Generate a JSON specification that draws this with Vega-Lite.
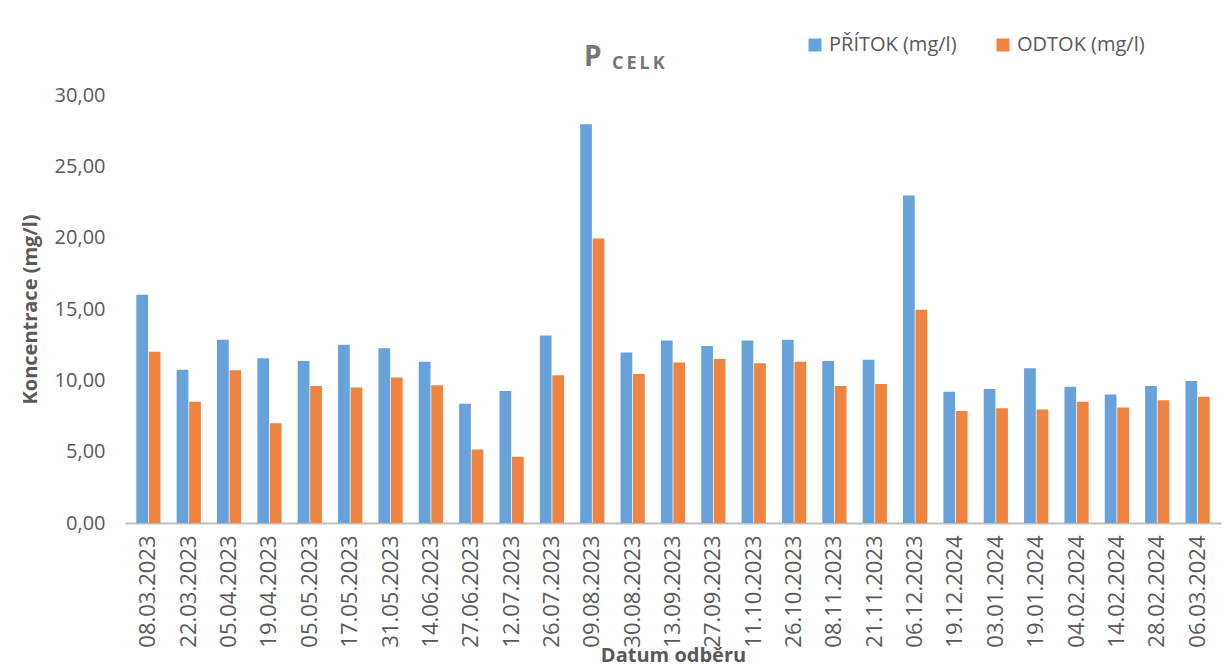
{
  "$schema": "https://vega.github.io/schema/vega-lite/v6.json",
  "width": 1096,
  "height": 428,
  "autosize": {"type": "none"},
  "padding": {"left": 125, "top": 95, "right": 8, "bottom": 145},
  "background": "white",
  "config": {"font": "Open Sans", "view": {"stroke": null}},
  "title": {
    "text": "P",
    "subtitle": "\u200b\u00a0\u00a0\u00a0\u00a0\u00a0\u00a0C\u2009E\u2009L\u2009K",
    "anchor": "middle",
    "align": "left",
    "dx": -89,
    "fontSize": 28,
    "fontWeight": "bold",
    "color": "#767676",
    "subtitleFontSize": 18,
    "subtitleFontWeight": "bold",
    "subtitleColor": "#767676",
    "subtitlePadding": -17,
    "offset": -38
  },
  "data": {
    "values": [
      {"datum": "08.03.2023", "serie": "PŘÍTOK (mg/l)", "hodnota": 16.0},
      {"datum": "08.03.2023", "serie": "ODTOK (mg/l)", "hodnota": 12.0},
      {"datum": "22.03.2023", "serie": "PŘÍTOK (mg/l)", "hodnota": 10.75},
      {"datum": "22.03.2023", "serie": "ODTOK (mg/l)", "hodnota": 8.5},
      {"datum": "05.04.2023", "serie": "PŘÍTOK (mg/l)", "hodnota": 12.85},
      {"datum": "05.04.2023", "serie": "ODTOK (mg/l)", "hodnota": 10.7},
      {"datum": "19.04.2023", "serie": "PŘÍTOK (mg/l)", "hodnota": 11.55},
      {"datum": "19.04.2023", "serie": "ODTOK (mg/l)", "hodnota": 7.0},
      {"datum": "05.05.2023", "serie": "PŘÍTOK (mg/l)", "hodnota": 11.35},
      {"datum": "05.05.2023", "serie": "ODTOK (mg/l)", "hodnota": 9.6},
      {"datum": "17.05.2023", "serie": "PŘÍTOK (mg/l)", "hodnota": 12.5},
      {"datum": "17.05.2023", "serie": "ODTOK (mg/l)", "hodnota": 9.5},
      {"datum": "31.05.2023", "serie": "PŘÍTOK (mg/l)", "hodnota": 12.25},
      {"datum": "31.05.2023", "serie": "ODTOK (mg/l)", "hodnota": 10.2},
      {"datum": "14.06.2023", "serie": "PŘÍTOK (mg/l)", "hodnota": 11.3},
      {"datum": "14.06.2023", "serie": "ODTOK (mg/l)", "hodnota": 9.65},
      {"datum": "27.06.2023", "serie": "PŘÍTOK (mg/l)", "hodnota": 8.35},
      {"datum": "27.06.2023", "serie": "ODTOK (mg/l)", "hodnota": 5.15},
      {"datum": "12.07.2023", "serie": "PŘÍTOK (mg/l)", "hodnota": 9.25},
      {"datum": "12.07.2023", "serie": "ODTOK (mg/l)", "hodnota": 4.65},
      {"datum": "26.07.2023", "serie": "PŘÍTOK (mg/l)", "hodnota": 13.15},
      {"datum": "26.07.2023", "serie": "ODTOK (mg/l)", "hodnota": 10.35},
      {"datum": "09.08.2023", "serie": "PŘÍTOK (mg/l)", "hodnota": 27.95},
      {"datum": "09.08.2023", "serie": "ODTOK (mg/l)", "hodnota": 19.95},
      {"datum": "30.08.2023", "serie": "PŘÍTOK (mg/l)", "hodnota": 11.95},
      {"datum": "30.08.2023", "serie": "ODTOK (mg/l)", "hodnota": 10.45},
      {"datum": "13.09.2023", "serie": "PŘÍTOK (mg/l)", "hodnota": 12.8},
      {"datum": "13.09.2023", "serie": "ODTOK (mg/l)", "hodnota": 11.25},
      {"datum": "27.09.2023", "serie": "PŘÍTOK (mg/l)", "hodnota": 12.4},
      {"datum": "27.09.2023", "serie": "ODTOK (mg/l)", "hodnota": 11.5},
      {"datum": "11.10.2023", "serie": "PŘÍTOK (mg/l)", "hodnota": 12.8},
      {"datum": "11.10.2023", "serie": "ODTOK (mg/l)", "hodnota": 11.2},
      {"datum": "26.10.2023", "serie": "PŘÍTOK (mg/l)", "hodnota": 12.85},
      {"datum": "26.10.2023", "serie": "ODTOK (mg/l)", "hodnota": 11.3},
      {"datum": "08.11.2023", "serie": "PŘÍTOK (mg/l)", "hodnota": 11.35},
      {"datum": "08.11.2023", "serie": "ODTOK (mg/l)", "hodnota": 9.6},
      {"datum": "21.11.2023", "serie": "PŘÍTOK (mg/l)", "hodnota": 11.45},
      {"datum": "21.11.2023", "serie": "ODTOK (mg/l)", "hodnota": 9.75},
      {"datum": "06.12.2023", "serie": "PŘÍTOK (mg/l)", "hodnota": 22.95},
      {"datum": "06.12.2023", "serie": "ODTOK (mg/l)", "hodnota": 14.95},
      {"datum": "19.12.2024", "serie": "PŘÍTOK (mg/l)", "hodnota": 9.2},
      {"datum": "19.12.2024", "serie": "ODTOK (mg/l)", "hodnota": 7.85},
      {"datum": "03.01.2024", "serie": "PŘÍTOK (mg/l)", "hodnota": 9.4},
      {"datum": "03.01.2024", "serie": "ODTOK (mg/l)", "hodnota": 8.05},
      {"datum": "19.01.2024", "serie": "PŘÍTOK (mg/l)", "hodnota": 10.85},
      {"datum": "19.01.2024", "serie": "ODTOK (mg/l)", "hodnota": 7.95},
      {"datum": "04.02.2024", "serie": "PŘÍTOK (mg/l)", "hodnota": 9.55},
      {"datum": "04.02.2024", "serie": "ODTOK (mg/l)", "hodnota": 8.5},
      {"datum": "14.02.2024", "serie": "PŘÍTOK (mg/l)", "hodnota": 9.0},
      {"datum": "14.02.2024", "serie": "ODTOK (mg/l)", "hodnota": 8.1},
      {"datum": "28.02.2024", "serie": "PŘÍTOK (mg/l)", "hodnota": 9.6},
      {"datum": "28.02.2024", "serie": "ODTOK (mg/l)", "hodnota": 8.6},
      {"datum": "06.03.2024", "serie": "PŘÍTOK (mg/l)", "hodnota": 9.95},
      {"datum": "06.03.2024", "serie": "ODTOK (mg/l)", "hodnota": 8.85}
    ]
  },
  "mark": {"type": "bar"},
  "encoding": {
    "x": {
      "field": "datum",
      "type": "nominal",
      "sort": null,
      "scale": {"paddingInner": 0.4, "paddingOuter": 0.28},
      "axis": {
        "title": "Datum odběru",
        "titleFontSize": 20,
        "titleFontWeight": "bold",
        "titleColor": "#595959",
        "titlePadding": -2,
        "labelAngle": -90,
        "labelFontSize": 22,
        "labelColor": "#595959",
        "labelPadding": 12,
        "ticks": false,
        "domainColor": "#BFBFBF",
        "domainWidth": 2,
        "grid": false
      }
    },
    "xOffset": {
      "field": "serie",
      "type": "nominal",
      "sort": ["PŘÍTOK (mg/l)", "ODTOK (mg/l)"],
      "scale": {"paddingInner": 0.06}
    },
    "y": {
      "field": "hodnota",
      "type": "quantitative",
      "scale": {"domain": [0, 30], "nice": false},
      "axis": {
        "values": [0, 5, 10, 15, 20, 25, 30],
        "labelExpr": "replace(format(datum.value, '.2f'), '.', ',')",
        "title": "Koncentrace (mg/l)",
        "titleFontSize": 20,
        "titleFontWeight": "bold",
        "titleColor": "#595959",
        "titlePadding": 14,
        "labelFontSize": 20,
        "labelColor": "#595959",
        "labelPadding": 20,
        "ticks": false,
        "domain": false,
        "grid": false
      }
    },
    "color": {
      "field": "serie",
      "type": "nominal",
      "sort": ["PŘÍTOK (mg/l)", "ODTOK (mg/l)"],
      "scale": {"domain": ["PŘÍTOK (mg/l)", "ODTOK (mg/l)"], "range": ["#68A2DA", "#EE8440"]},
      "legend": {
        "title": null,
        "orient": "none",
        "legendX": 680,
        "legendY": -60,
        "direction": "horizontal",
        "symbolType": "square",
        "symbolSize": 169,
        "symbolStrokeWidth": 0,
        "labelFontSize": 20,
        "labelColor": "#595959",
        "labelLimit": 300,
        "labelOffset": 4,
        "columnPadding": 36
      }
    }
  }
}
